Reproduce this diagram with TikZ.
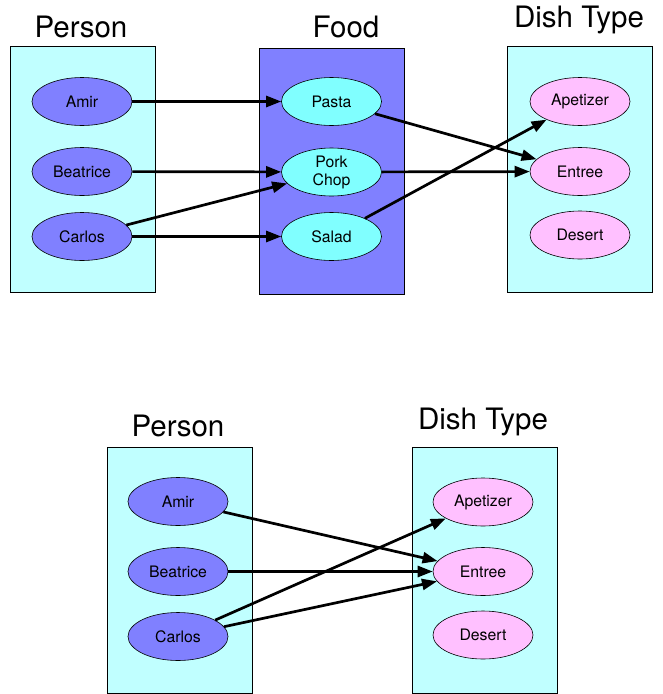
\documentclass[tikz,border=0pt]{standalone}
\usepackage{fontspec}
\setmainfont{TeX Gyre Heros}
\usepackage{tikz}
\usetikzlibrary{arrows.meta,shapes.geometric}

\definecolor{paleCyan}{HTML}{C0FFFF}
\definecolor{lavender}{HTML}{8080FF}
\definecolor{aqua}{HTML}{80FFFF}
\definecolor{pink}{HTML}{FFC0FF}

\begin{document}
\begin{tikzpicture}
[
	              x = 1pt, y = -1pt,
	           >= {Triangle[length=15pt,width=11pt]},
	   group/.style = { draw=black, line width=0.9pt, inner sep=0pt,
	                    minimum width=145pt, minimum height=246pt },
	    item/.style = { draw=black, line width=0.6pt, ellipse, inner sep=0pt,
	                    minimum width=100pt, minimum height=48pt, align=center,
	                    font=\fontsize{15.8}{18}\selectfont },
	   title/.style = { anchor=base, inner sep=0pt, font=\fontsize{29.5}{32}\selectfont },
	    link/.style = { ->, line width=2.7pt }
]
	\useasboundingbox (0,0) rectangle (662,694);

	% first mapping
	% groups
	\node (GP1) at (83,169.5)    [group, fill=paleCyan] {};
	\node (GF1) at (331.5,171)   [group, fill=lavender] {};
	\node (GD1) at (580,169.5)   [group, fill=paleCyan] {};
	\node (TP1) at (81,37)       [title] {Person};
	\node (TF1) at (346,37)      [title] {Food};
	\node (TD1) at (579,27)      [title] {Dish Type};

	% nodes
	\node (Amir1)     at (82,101.5)    [item, fill=lavender] {Amir};
	\node (Beatrice1) at (82,171.5)    [item, fill=lavender] {Beatrice};
	\node (Carlos1)   at (82,236.5)    [item, fill=lavender] {Carlos};
	\node (Pasta)     at (331.5,101.5) [item, fill=aqua]     {Pasta};
	\node (Pork)      at (331.5,172)   [item, fill=aqua]     {Pork\\Chop};
	\node (Salad)     at (331.5,236.5) [item, fill=aqua]     {Salad};
	\node (Apet1)     at (580,101.5)   [item, fill=pink]     {Apetizer};
	\node (Entree1)   at (580,171.5)   [item, fill=pink]     {Entree};
	\node (Desert1)   at (580,235)     [item, fill=pink]     {Desert};

	% edges
	\draw [link] (Amir1) edge (Pasta) (Beatrice1) edge (Pork) (Carlos1) edge (Pork) (Carlos1) edge (Salad);
	\draw [link] (Pasta) edge (Entree1) (Pork) edge (Entree1) (Salad) edge (Apet1);

	% second mapping
	% groups
	\node (GP2) at (179.5,570)   [group, fill=paleCyan] {};
	\node (GD2) at (484.5,570)   [group, fill=paleCyan] {};
	\node (TP2) at (178,436)     [title] {Person};
	\node (TD2) at (483,429)     [title] {Dish Type};

	% nodes
	\node (Amir2)     at (178,501.5)   [item, fill=lavender] {Amir};
	\node (Beatrice2) at (178,571.5)   [item, fill=lavender] {Beatrice};
	\node (Carlos2)   at (178,636.5)   [item, fill=lavender] {Carlos};
	\node (Apet2)     at (483,502)     [item, fill=pink]     {Apetizer};
	\node (Entree2)   at (483,571.5)   [item, fill=pink]     {Entree};
	\node (Desert2)   at (483,635)     [item, fill=pink]     {Desert};

	% edges
	\draw [link] (Amir2) edge (Entree2) (Beatrice2) edge (Entree2);
	\draw [link] (Carlos2) edge (Apet2) (Carlos2) edge (Entree2);
\end{tikzpicture}
\end{document}
